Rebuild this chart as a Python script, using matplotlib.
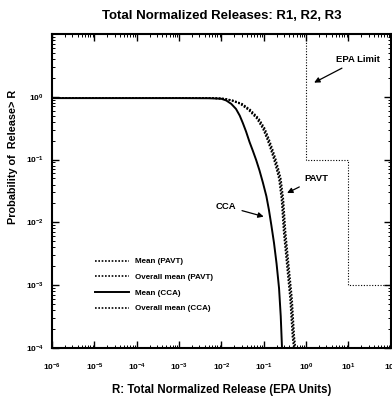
import matplotlib
matplotlib.use("Agg")
import matplotlib.pyplot as plt

plt.rcParams['font.family'] = ['Liberation Sans', 'DejaVu Sans']
plt.rcParams['font.weight'] = 'bold'
plt.rcParams['mathtext.fontset'] = 'custom'
plt.rcParams['mathtext.rm'] = 'Liberation Sans:bold'
plt.rcParams['mathtext.it'] = 'Liberation Sans:bold'
plt.rcParams['mathtext.bf'] = 'Liberation Sans:bold'

# exceedance curves
cca_mean_x = [1e-6, 1e-4, 1e-3, 5e-3, 0.0098, 0.013, 0.017, 0.022, 0.027, 0.032, 0.038, 0.046,
              0.055, 0.066, 0.079, 0.095, 0.115, 0.132, 0.151, 0.174, 0.2, 0.229, 0.251, 0.269]
cca_mean_y = [0.95, 0.95, 0.95, 0.945, 0.93, 0.87, 0.77, 0.64, 0.50, 0.38, 0.28, 0.19,
              0.138, 0.098, 0.067, 0.043, 0.026, 0.0158, 0.0089, 0.0047, 0.0022, 0.00089, 0.00032, 0.0001]

pavt_mean_x = [1e-6, 1e-4, 1e-3, 6e-3, 0.0115, 0.018, 0.029, 0.045, 0.072, 0.1, 0.126, 0.155, 0.182,
               0.21, 0.24, 0.275, 0.31, 0.37, 0.44, 0.50, 0.535]
pavt_mean_y = [0.95, 0.95, 0.95, 0.95, 0.93, 0.87, 0.77, 0.62, 0.45, 0.31, 0.21, 0.14, 0.10,
               0.07, 0.049, 0.023, 0.0069, 0.002, 0.0006, 0.00015, 0.0001]

pavt_overall_x = [1e-6, 1e-4, 1e-3, 6e-3, 0.012, 0.019, 0.031, 0.048, 0.076, 0.106, 0.133, 0.164, 0.192,
                  0.222, 0.253, 0.29, 0.327, 0.39, 0.465, 0.525, 0.56]
pavt_overall_y = [0.95, 0.95, 0.95, 0.95, 0.93, 0.87, 0.77, 0.62, 0.45, 0.31, 0.21, 0.14, 0.10,
                  0.07, 0.049, 0.023, 0.0069, 0.002, 0.0006, 0.00015, 0.0001]

cca_overall_x = [1e-6, 1e-4, 1e-3, 6e-3, 0.011, 0.0172, 0.0275, 0.043, 0.068, 0.095, 0.12, 0.148, 0.173,
                 0.2, 0.228, 0.262, 0.295, 0.352, 0.418, 0.475, 0.51]
cca_overall_y = [0.95, 0.95, 0.95, 0.95, 0.93, 0.87, 0.77, 0.62, 0.45, 0.31, 0.21, 0.14, 0.10,
                 0.07, 0.049, 0.023, 0.0069, 0.002, 0.0006, 0.00015, 0.0001]

# EPA limit step
epa_x = [1, 1, 10, 10, 100]
epa_y = [10, 0.1, 0.1, 0.001, 0.001]

xticks = [1e-6, 1e-5, 1e-4, 1e-3, 1e-2, 1e-1, 1e0, 1e1, 1e2]
yticks = [1e-4, 1e-3, 1e-2, 1e-1, 1e0]

fig = plt.figure(figsize=(3.92, 3.99), dpi=100)
ax = fig.add_axes([0.133, 0.128, 0.864, 0.787])

dot = (0, (1, 1))
ax.plot(pavt_mean_x, pavt_mean_y, color='black', lw=1.2, ls=dot, label='Mean (PAVT)')
ax.plot(pavt_overall_x, pavt_overall_y, color='black', lw=1.2, ls=dot, label='Overall mean (PAVT)')
ax.plot(cca_mean_x, cca_mean_y, color='black', lw=1.4, ls='-', label='Mean (CCA)')
ax.plot(cca_overall_x, cca_overall_y, color='black', lw=1.2, ls=dot, label='Overall mean (CCA)')
ax.plot(epa_x, epa_y, color='black', lw=0.8, ls=(0, (1, 1.5)))

ax.set_xscale('log')
ax.set_yscale('log')
ax.set_xlim(1e-6, 1e2)
ax.set_ylim(1e-4, 10)
ax.set_xticks(xticks)
ax.set_yticks(yticks)
ax.tick_params(which='both', direction='in', top=True, right=True, labelsize=6)
ax.tick_params(axis='x', pad=10)
ax.tick_params(axis='y', pad=6)
ax.tick_params(which='major', length=5, width=1)
ax.tick_params(which='minor', length=2.5, width=0.7)
for s in ax.spines.values():
    s.set_linewidth(1.5)

ax.set_title('Total Normalized Releases: R1, R2, R3', fontsize=9.5, fontweight='bold', pad=11)
ax.set_xlabel('R: Total Normalized Release (EPA Units)', fontsize=8.3, fontweight='bold', labelpad=8)
ax.set_ylabel('Probability of  Release> R', fontsize=7.8, fontweight='bold')
ax.yaxis.set_label_coords(-0.1, 0.61)

arrow = dict(arrowstyle='-|>', color='black', lw=0.9, mutation_scale=8)
ax.annotate('EPA Limit', xy=(1.35, 1.6), xytext=(5.2, 3.9), fontsize=6.8, fontweight='bold',
            arrowprops=arrow, va='center')
ax.annotate('PAVT', xy=(0.31, 0.028), xytext=(0.91, 0.05), fontsize=6.8, fontweight='bold',
            arrowprops=arrow, va='center')
ax.annotate('CCA', xy=(0.115, 0.012), xytext=(0.0074, 0.018), fontsize=6.8, fontweight='bold',
            arrowprops=arrow, va='center')

ax.legend(loc='lower left', bbox_to_anchor=(0.105, 0.09), frameon=False,
          handlelength=4.2, handletextpad=0.8, labelspacing=1.0, prop={'weight': 'bold', 'size': 5.8})

fig.savefig('out.png', dpi=100)
